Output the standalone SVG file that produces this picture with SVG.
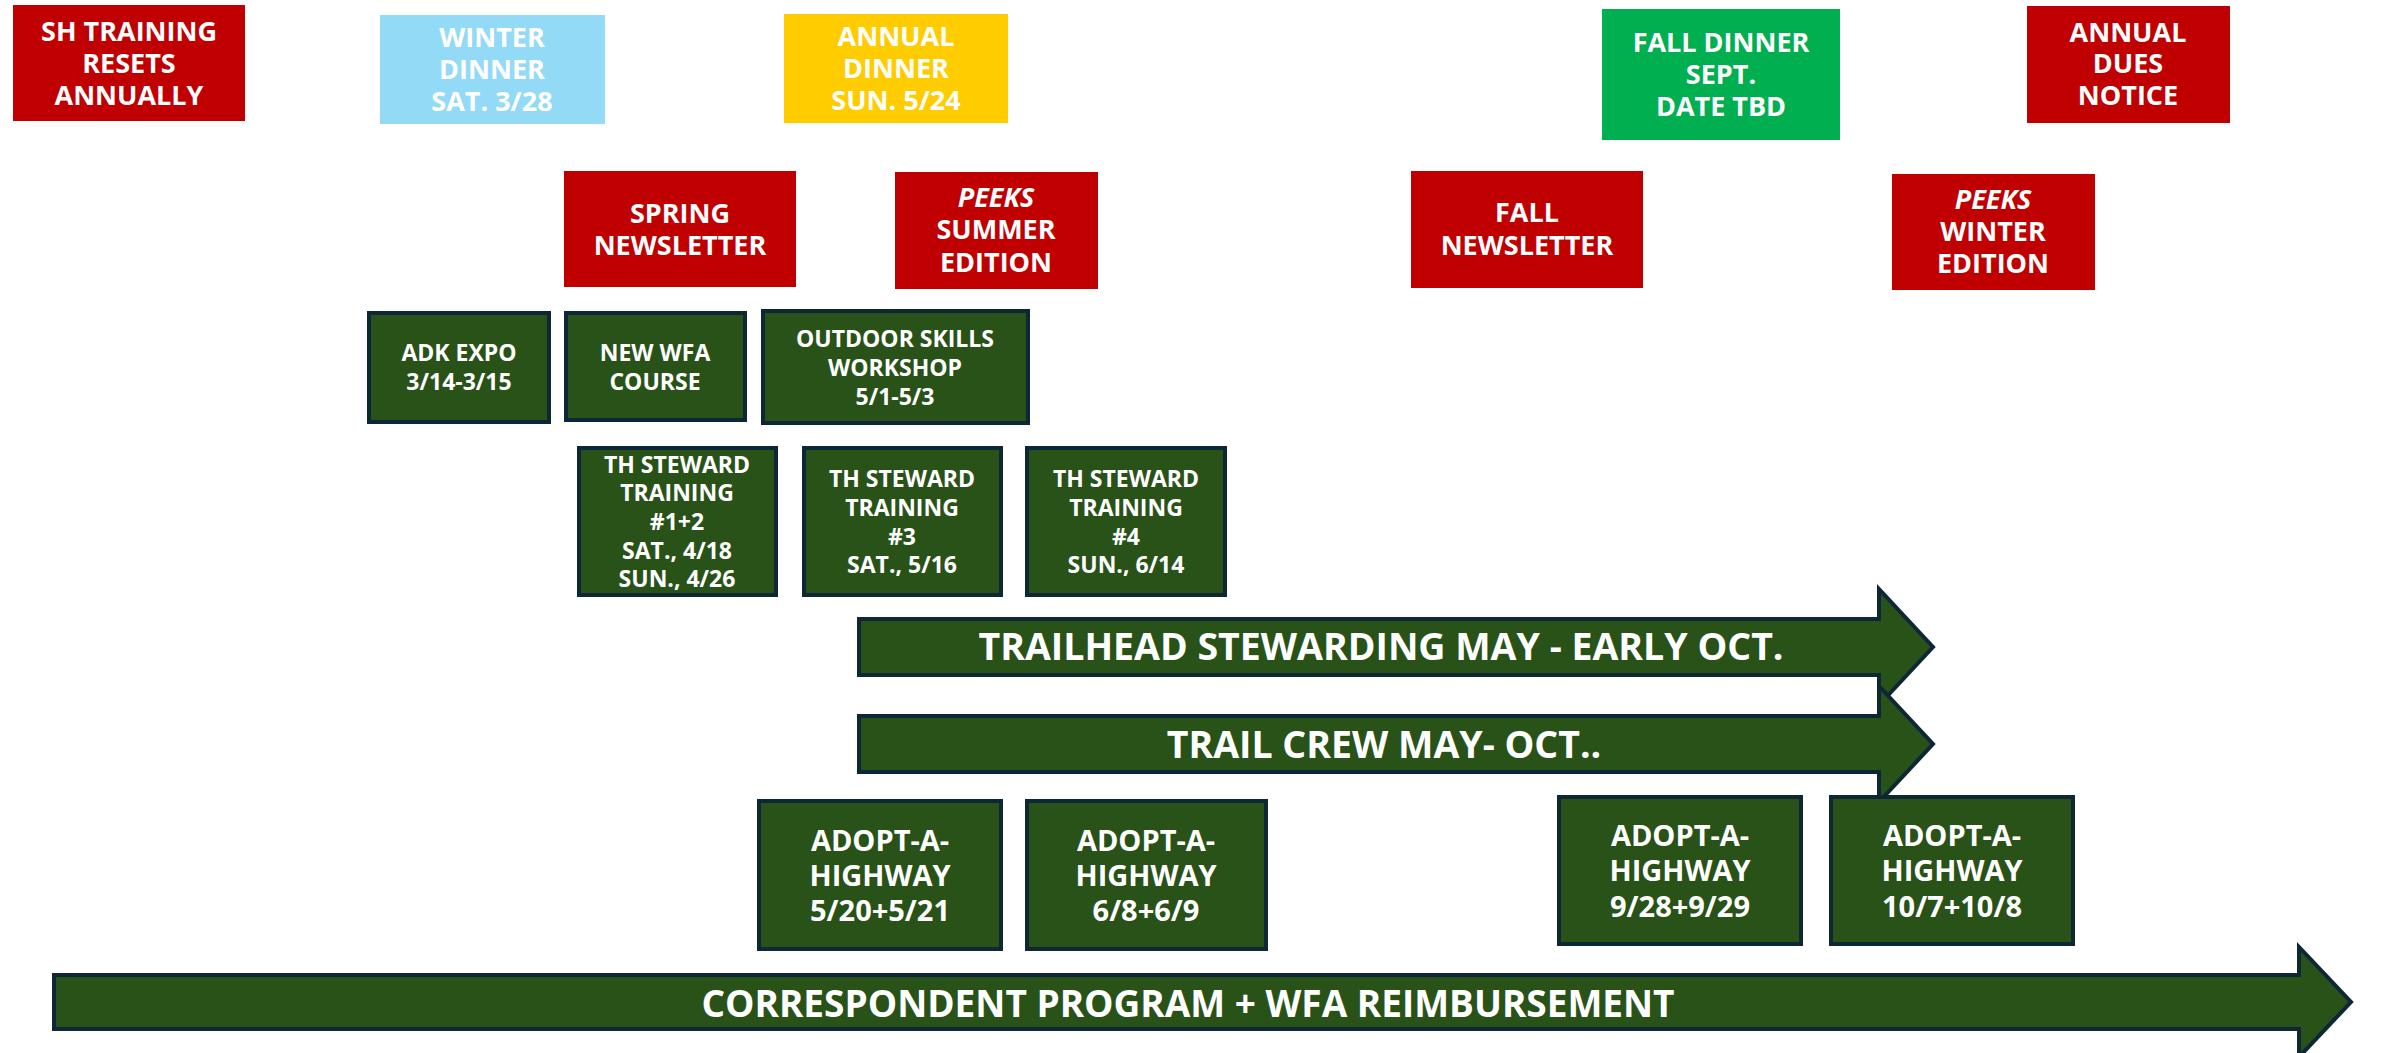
<svg xmlns="http://www.w3.org/2000/svg" width="2402" height="1053" viewBox="0 0 2402 1053">
<style>
text{font-family:"Open Sans","Noto Sans","Liberation Sans",sans-serif;font-weight:bold;fill:#ffffff;text-anchor:middle}
.red{fill:#C00000}
.blue{fill:#93DAF7}
.yellow{fill:#FFCC00}
.lgreen{fill:#00B050}
.g{fill:#295219;stroke:#0E2737;stroke-width:4}
.t27{font-size:27px}
.t23{font-size:23px}
.t29{font-size:29px}
.t38{font-size:37.5px}
.t37{font-size:37px}
.it{font-style:italic}
</style>
<rect width="2402" height="1053" fill="#ffffff"/>

<g id="sh-training">
<rect class="red" x="13" y="5" width="232" height="116"/>
<text class="t27"><tspan x="129" y="41">SH TRAINING</tspan><tspan x="129" y="73">RESETS</tspan><tspan x="129" y="105">ANNUALLY</tspan></text>
</g>
<g id="winter-dinner">
<rect class="blue" x="380" y="15" width="225" height="109"/>
<text class="t27"><tspan x="492" y="47">WINTER</tspan><tspan x="492" y="79">DINNER</tspan><tspan x="492" y="111">SAT. 3/28</tspan></text>
</g>
<g id="annual-dinner">
<rect class="yellow" x="784" y="14" width="224" height="109"/>
<text class="t27"><tspan x="896" y="46">ANNUAL</tspan><tspan x="896" y="78">DINNER</tspan><tspan x="896" y="110">SUN.  5/24</tspan></text>
</g>
<g id="fall-dinner">
<rect class="lgreen" x="1602" y="9" width="238" height="131"/>
<text class="t27"><tspan x="1721" y="52">FALL DINNER</tspan><tspan x="1721" y="84">SEPT.</tspan><tspan x="1721" y="116">DATE TBD</tspan></text>
</g>
<g id="annual-dues">
<rect class="red" x="2027" y="6" width="203" height="117"/>
<text class="t27"><tspan x="2128" y="42">ANNUAL</tspan><tspan x="2128" y="73">DUES</tspan><tspan x="2128" y="105">NOTICE</tspan></text>
</g>
<g id="spring-newsletter">
<rect class="red" x="564" y="171" width="232" height="116"/>
<text class="t27"><tspan x="680" y="223">SPRING</tspan><tspan x="680" y="255">NEWSLETTER</tspan></text>
</g>
<g id="peeks-summer">
<rect class="red" x="895" y="172" width="203" height="117"/>
<text class="t27"><tspan class="it" x="996" y="207">PEEKS</tspan><tspan x="996" y="239">SUMMER</tspan><tspan x="996" y="272">EDITION</tspan></text>
</g>
<g id="fall-newsletter">
<rect class="red" x="1411" y="171" width="232" height="117"/>
<text class="t27"><tspan x="1527" y="222">FALL</tspan><tspan x="1527" y="255">NEWSLETTER</tspan></text>
</g>
<g id="peeks-winter">
<rect class="red" x="1892" y="174" width="203" height="116"/>
<text class="t27"><tspan class="it" x="1993" y="209">PEEKS</tspan><tspan x="1993" y="241">WINTER</tspan><tspan x="1993" y="273">EDITION</tspan></text>
</g>

<g id="adk-expo">
<rect class="g" x="369" y="313" width="180" height="109"/>
<text class="t23"><tspan x="459" y="361">ADK EXPO</tspan><tspan x="459" y="390">3/14-3/15</tspan></text>
</g>
<g id="new-wfa">
<rect class="g" x="566" y="313" width="179" height="107"/>
<text class="t23"><tspan x="655" y="361">NEW WFA</tspan><tspan x="655" y="390">COURSE</tspan></text>
</g>
<g id="outdoor-skills">
<rect class="g" x="763" y="311" width="265" height="112"/>
<text class="t23"><tspan x="895" y="347">OUTDOOR SKILLS</tspan><tspan x="895" y="376">WORKSHOP</tspan><tspan x="895" y="405">5/1-5/3</tspan></text>
</g>
<g id="th-steward-1-2">
<rect class="g" x="579" y="448" width="197" height="147"/>
<text class="t23"><tspan x="677" y="473">TH STEWARD</tspan><tspan x="677" y="501">TRAINING</tspan><tspan x="677" y="530">#1+2</tspan><tspan x="677" y="559">SAT., 4/18</tspan><tspan x="677" y="587">SUN., 4/26</tspan></text>
</g>
<g id="th-steward-3">
<rect class="g" x="804" y="448" width="197" height="147"/>
<text class="t23"><tspan x="902" y="487">TH STEWARD</tspan><tspan x="902" y="516">TRAINING</tspan><tspan x="902" y="545">#3</tspan><tspan x="902" y="573">SAT., 5/16</tspan></text>
</g>
<g id="th-steward-4">
<rect class="g" x="1027" y="448" width="198" height="147"/>
<text class="t23"><tspan x="1126" y="487">TH STEWARD</tspan><tspan x="1126" y="516">TRAINING</tspan><tspan x="1126" y="545">#4</tspan><tspan x="1126" y="573">SUN., 6/14</tspan></text>
</g>

<g id="bands">
<g id="trailhead-stewarding">
<polygon class="g" points="859,619 1879,619 1879,589 1933,647 1879,705 1879,675 859,675"/>
<text class="t38" x="1381" y="660">TRAILHEAD STEWARDING MAY - EARLY OCT.</text>
</g>
<g id="trail-crew">
<polygon class="g" points="859,716 1879,716 1879,686 1933,744 1879,802 1879,772 859,772"/>
<text class="t38" x="1384" y="758">TRAIL CREW MAY- OCT..</text>
</g>
<g id="correspondent">
<polygon class="g" points="54,975 2299,975 2299,947 2351,1002 2299,1057 2299,1029 54,1029"/>
<text class="t37" x="1188" y="1017">CORRESPONDENT PROGRAM + WFA REIMBURSEMENT</text>
</g>
</g>

<g id="adopt-1">
<rect class="g" x="759" y="801" width="242" height="148"/>
<text class="t29"><tspan x="880" y="851">ADOPT-A-</tspan><tspan x="880" y="886">HIGHWAY</tspan><tspan x="880" y="921">5/20+5/21</tspan></text>
</g>
<g id="adopt-2">
<rect class="g" x="1027" y="801" width="239" height="148"/>
<text class="t29"><tspan x="1146" y="851">ADOPT-A-</tspan><tspan x="1146" y="886">HIGHWAY</tspan><tspan x="1146" y="921">6/8+6/9</tspan></text>
</g>
<g id="adopt-3">
<rect class="g" x="1559" y="797" width="242" height="147"/>
<text class="t29"><tspan x="1680" y="846">ADOPT-A-</tspan><tspan x="1680" y="881">HIGHWAY</tspan><tspan x="1680" y="917">9/28+9/29</tspan></text>
</g>
<g id="adopt-4">
<rect class="g" x="1831" y="797" width="242" height="147"/>
<text class="t29"><tspan x="1952" y="846">ADOPT-A-</tspan><tspan x="1952" y="881">HIGHWAY</tspan><tspan x="1952" y="917">10/7+10/8</tspan></text>
</g>
</svg>
